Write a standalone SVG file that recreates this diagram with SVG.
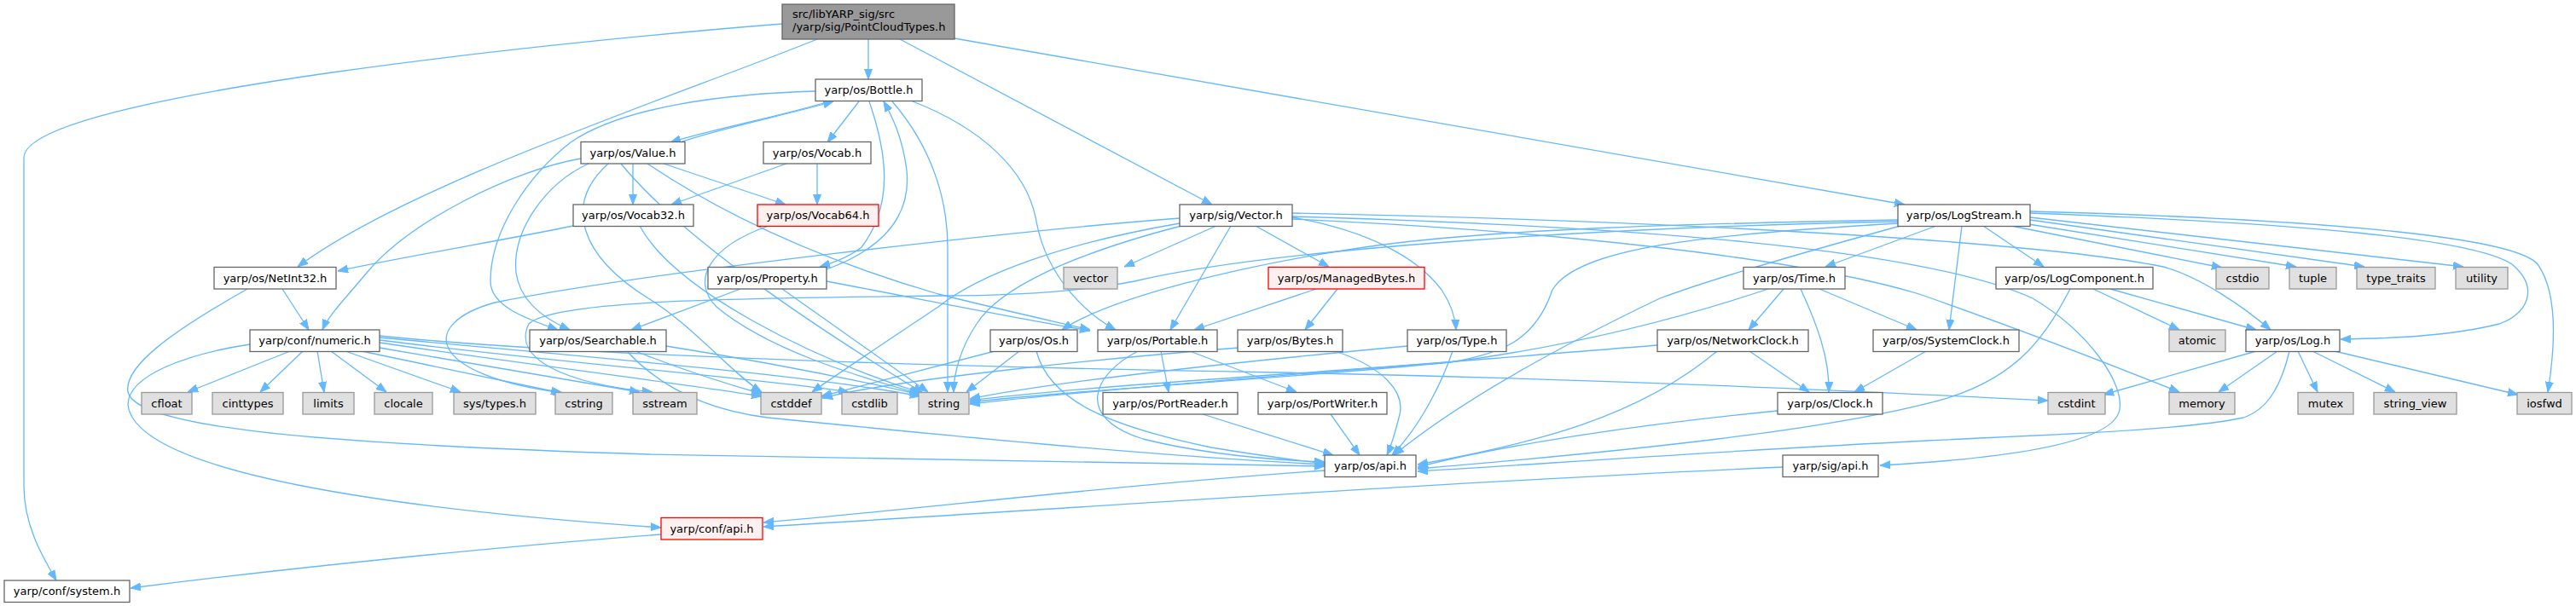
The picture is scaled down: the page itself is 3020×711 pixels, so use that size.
<svg xmlns="http://www.w3.org/2000/svg" width="3020" height="711" viewBox="0 0 3020 711">
<style>
.e{fill:none;stroke:#63b8ff;stroke-width:1.3;marker-end:url(#a)}
rect{stroke-width:1.3}
.w rect{fill:#ffffff;stroke:#666666}
.g rect{fill:#e0e0e0;stroke:#999999}
.r rect{fill:#fff0f0;stroke:#ff0000}
.t rect{fill:#999999;stroke:#666666}
text{font-family:"DejaVu Sans","Liberation Sans",sans-serif;font-size:13px;fill:#000000;text-anchor:middle}
.t text{text-anchor:start}
</style>
<defs>
<marker id="a" markerWidth="12" markerHeight="10" refX="12" refY="5" orient="auto" markerUnits="userSpaceOnUse"><path d="M0,0.5 L12,5 L0,9.5 z" fill="#63b8ff" stroke="#63b8ff" stroke-width="1"/></marker>
</defs>
<rect width="3020" height="711" fill="#ffffff"/>
<g id="edges">
<path class="e" d="M1018,46 L1018,93"/>
<path class="e" d="M958,46 C800,110 480,215 349,313"/>
<path class="e" d="M1055,46 L1421,240"/>
<path class="e" d="M1119,45 L2233,240"/>
<path class="e" d="M917,28 C700,45 28,110 28,185 L28,570 C28,615 48,650 66,681"/>
<path class="e" d="M972,119 C920,135 830,153 786,167"/>
<path class="e" d="M797,167 C845,150 930,133 977,119"/>
<path class="e" d="M1007,119 L970,167"/>
<path class="e" d="M1019,119 C1040,180 1048,240 1010,290 C995,302 978,308 961,313"/>
<path class="e" d="M969,316 C1040,290 1068,250 1063,200 C1058,160 1045,135 1036,119"/>
<path class="e" d="M1046,119 C1090,170 1111,230 1111,290 L1111,460"/>
<path class="e" d="M1070,119 C1150,150 1205,200 1215,260 C1228,330 1280,372 1308,387"/>
<path class="e" d="M956,107 C850,110 730,125 669,167 C620,205 575,270 575,330 C575,360 620,375 654,387"/>
<path class="e" d="M681,186 C600,200 480,260 430,320 C405,350 385,370 378,387"/>
<path class="e" d="M690,192 C640,215 600,270 605,320 C610,355 640,375 668,387"/>
<path class="e" d="M742,192 L742,240"/>
<path class="e" d="M778,192 L921,240"/>
<path class="e" d="M759,192 C860,260 980,310 1100,345 C1180,365 1240,378 1278,387"/>
<path class="e" d="M713,192 C660,240 680,300 760,350 C810,380 860,440 893,460"/>
<path class="e" d="M728,192 C800,280 950,380 1082,461"/>
<path class="e" d="M922,192 L787,240"/>
<path class="e" d="M958,192 L958,240"/>
<path class="e" d="M672,265 C600,280 480,300 396,318"/>
<path class="e" d="M750,265 C790,340 950,420 1080,461"/>
<path class="e" d="M901,265 C830,290 810,330 840,360 C900,410 1000,440 1078,462"/>
<path class="e" d="M331,339 L362,387"/>
<path class="e" d="M290,339 C200,390 145,430 150,460 C160,500 350,520 760,533 L1553,547"/>
<path class="e" d="M868,339 L740,387"/>
<path class="e" d="M969,330 C1100,355 1200,375 1278,388"/>
<path class="e" d="M917,339 L1088,460"/>
<path class="e" d="M745,412 C790,430 850,450 893,462"/>
<path class="e" d="M781,406 C900,425 1000,445 1079,463"/>
<path class="e" d="M735,412 C770,450 820,480 900,490 C1100,510 1350,535 1553,545"/>
<path class="e" d="M293,404 C220,415 150,440 150,475 C160,560 500,600 775,619"/>
<path class="e" d="M340,412 L220,460"/>
<path class="e" d="M355,412 L305,460"/>
<path class="e" d="M372,412 L380,460"/>
<path class="e" d="M388,412 L453,460"/>
<path class="e" d="M405,412 L540,460"/>
<path class="e" d="M424,412 L658,461"/>
<path class="e" d="M445,408 L750,460"/>
<path class="e" d="M445,402 C600,425 800,450 893,465"/>
<path class="e" d="M445,399 C650,425 900,445 995,460"/>
<path class="e" d="M445,396 C700,420 950,440 1079,465"/>
<path class="e" d="M445,394 C700,420 1200,432 1500,437 C1900,445 2200,460 2401,470"/>
<path class="e" d="M1426,265 L1318,313"/>
<path class="e" d="M1443,265 L1372,387"/>
<path class="e" d="M1472,265 L1558,313"/>
<path class="e" d="M1383,256 C1200,270 750,320 580,355 C490,380 500,440 660,461"/>
<path class="e" d="M1383,262 C1250,285 1150,320 1100,360 C1040,400 980,440 952,460"/>
<path class="e" d="M1385,265 C1250,300 1170,340 1145,380 C1125,410 1118,440 1118,460"/>
<path class="e" d="M1515,255 C1600,270 1660,300 1690,340 C1700,355 1706,370 1707,387"/>
<path class="e" d="M1515,250 C2000,260 2400,285 2536,313 C2580,325 2630,360 2662,387"/>
<path class="e" d="M1515,257 C1800,270 2100,300 2250,345 C2350,380 2480,430 2555,460"/>
<path class="e" d="M1515,254 C1900,265 2250,290 2383,350 C2450,390 2490,450 2485,480 C2480,520 2350,538 2204,546"/>
<path class="e" d="M1543,339 L1400,387"/>
<path class="e" d="M1568,339 L1530,387"/>
<path class="e" d="M1452,408 C1300,420 1050,445 964,467"/>
<path class="e" d="M1565,412 C1620,430 1650,460 1640,490 C1635,510 1630,525 1626,534"/>
<path class="e" d="M1361,412 L1370,460"/>
<path class="e" d="M1395,412 L1520,460"/>
<path class="e" d="M1334,412 C1280,440 1260,490 1340,515 C1420,535 1500,540 1553,542"/>
<path class="e" d="M1410,486 L1563,534"/>
<path class="e" d="M1560,486 L1594,534"/>
<path class="e" d="M1166,412 L963,465"/>
<path class="e" d="M1195,412 L1133,460"/>
<path class="e" d="M1215,412 C1230,470 1300,500 1420,525 C1480,535 1520,540 1553,544"/>
<path class="e" d="M1650,406 C1500,420 1250,445 1137,468"/>
<path class="e" d="M1703,412 C1690,450 1665,500 1632,534"/>
<path class="e" d="M2225,258 C2000,262 1750,268 1600,290 C1450,312 1300,350 1245,387"/>
<path class="e" d="M2225,260 C1900,266 1500,290 1330,330 C1250,345 1150,347 1100,347 C900,350 650,350 620,380 C600,420 660,450 765,460"/>
<path class="e" d="M2225,262 C2000,275 1850,290 1820,340 C1800,400 1760,415 1700,425 C1500,440 1250,455 1137,470"/>
<path class="e" d="M2228,265 C2100,300 2000,330 1946,350 C1800,420 1700,480 1634,534"/>
<path class="e" d="M2270,265 L2140,313"/>
<path class="e" d="M2300,265 L2285,387"/>
<path class="e" d="M2325,265 L2396,313"/>
<path class="e" d="M2358,265 L2605,314"/>
<path class="e" d="M2378,263 L2692,313"/>
<path class="e" d="M2380,258 L2772,313"/>
<path class="e" d="M2380,255 L2888,313"/>
<path class="e" d="M2380,250 C2700,262 2900,280 2945,310 C2980,340 2960,370 2930,380 C2870,395 2800,397 2744,398"/>
<path class="e" d="M2380,248 C2750,258 2950,280 2975,310 C3000,345 2995,410 2987,460"/>
<path class="e" d="M2091,339 L2050,387"/>
<path class="e" d="M2111,339 C2130,380 2145,420 2144,460"/>
<path class="e" d="M2133,339 L2247,387"/>
<path class="e" d="M2073,339 C1980,370 1850,405 1700,425 C1500,445 1250,458 1137,472"/>
<path class="e" d="M1943,405 C1700,425 1300,455 1137,474"/>
<path class="e" d="M2013,412 C1920,490 1800,520 1662,545"/>
<path class="e" d="M2051,412 L2121,460"/>
<path class="e" d="M2258,412 L2174,460"/>
<path class="e" d="M2084,482 C1900,500 1750,525 1662,548"/>
<path class="e" d="M2427,339 C2400,390 2370,440 2283,467 C2150,505 1900,530 1662,550"/>
<path class="e" d="M2454,339 L2555,387"/>
<path class="e" d="M2474,339 L2645,387"/>
<path class="e" d="M2645,412 L2466,463"/>
<path class="e" d="M2670,412 L2601,460"/>
<path class="e" d="M2684,412 C2675,450 2660,480 2630,490 C2560,505 2400,510 2260,517 C2000,530 1800,545 1662,553"/>
<path class="e" d="M2694,412 L2717,460"/>
<path class="e" d="M2711,412 L2808,460"/>
<path class="e" d="M2737,412 L2952,463"/>
<path class="e" d="M1553,552 C1300,570 1100,595 895,613"/>
<path class="e" d="M2090,548 C1700,565 1200,600 895,618"/>
<path class="e" d="M775,627 C600,640 350,665 153,690"/>
</g>
<g id="n_top" class="t"><rect x="917" y="5" width="202" height="41"/><text x="929" y="20.5">src/libYARP_sig/src</text><text x="929" y="35.5">/yarp/sig/PointCloudTypes.h</text></g>
<g id="n_bottle" class="w"><rect x="956" y="93" width="125" height="25.5"/><text x="1018.5" y="110.3">yarp/os/Bottle.h</text></g>
<g id="n_value" class="w"><rect x="681" y="166.5" width="122" height="25.5"/><text x="742" y="183.8">yarp/os/Value.h</text></g>
<g id="n_vocab" class="w"><rect x="895" y="166.5" width="126" height="25.5"/><text x="958" y="183.8">yarp/os/Vocab.h</text></g>
<g id="n_vocab32" class="w"><rect x="672" y="240" width="141" height="25.5"/><text x="742.5" y="257.3">yarp/os/Vocab32.h</text></g>
<g id="n_vocab64" class="r"><rect x="888" y="240" width="142" height="25.5"/><text x="959" y="257.3">yarp/os/Vocab64.h</text></g>
<g id="n_sigvector" class="w"><rect x="1383" y="240" width="132" height="25.5"/><text x="1449" y="257.3">yarp/sig/Vector.h</text></g>
<g id="n_logstream" class="w"><rect x="2225" y="240" width="155" height="25.5"/><text x="2302.5" y="257.3">yarp/os/LogStream.h</text></g>
<g id="n_netint32" class="w"><rect x="251" y="313.5" width="143" height="25.5"/><text x="322.5" y="330.8">yarp/os/NetInt32.h</text></g>
<g id="n_property" class="w"><rect x="830" y="313.5" width="139" height="25.5"/><text x="899.5" y="330.8">yarp/os/Property.h</text></g>
<g id="n_vector" class="g"><rect x="1247" y="313.5" width="63" height="25.5"/><text x="1278.5" y="330.8">vector</text></g>
<g id="n_managedbytes" class="r"><rect x="1487" y="313.5" width="183" height="25.5"/><text x="1578.5" y="330.8">yarp/os/ManagedBytes.h</text></g>
<g id="n_time" class="w"><rect x="2044" y="313.5" width="119" height="25.5"/><text x="2103.5" y="330.8">yarp/os/Time.h</text></g>
<g id="n_logcomponent" class="w"><rect x="2340" y="313.5" width="184" height="25.5"/><text x="2432" y="330.8">yarp/os/LogComponent.h</text></g>
<g id="n_cstdio" class="g"><rect x="2598" y="313.5" width="62" height="25.5"/><text x="2629" y="330.8">cstdio</text></g>
<g id="n_tuple" class="g"><rect x="2684" y="313.5" width="55" height="25.5"/><text x="2711.5" y="330.8">tuple</text></g>
<g id="n_type_traits" class="g"><rect x="2763" y="313.5" width="92" height="25.5"/><text x="2809" y="330.8">type_traits</text></g>
<g id="n_utility" class="g"><rect x="2879" y="313.5" width="61" height="25.5"/><text x="2909.5" y="330.8">utility</text></g>
<g id="n_numeric" class="w"><rect x="293" y="387" width="152" height="25.5"/><text x="369" y="404.3">yarp/conf/numeric.h</text></g>
<g id="n_searchable" class="w"><rect x="621" y="387" width="160" height="25.5"/><text x="701" y="404.3">yarp/os/Searchable.h</text></g>
<g id="n_os" class="w"><rect x="1161" y="387" width="102" height="25.5"/><text x="1212" y="404.3">yarp/os/Os.h</text></g>
<g id="n_portable" class="w"><rect x="1287" y="387" width="140" height="25.5"/><text x="1357" y="404.3">yarp/os/Portable.h</text></g>
<g id="n_bytes" class="w"><rect x="1451" y="387" width="123" height="25.5"/><text x="1512.5" y="404.3">yarp/os/Bytes.h</text></g>
<g id="n_type" class="w"><rect x="1650" y="387" width="116" height="25.5"/><text x="1708" y="404.3">yarp/os/Type.h</text></g>
<g id="n_networkclock" class="w"><rect x="1943" y="387" width="177" height="25.5"/><text x="2031.5" y="404.3">yarp/os/NetworkClock.h</text></g>
<g id="n_systemclock" class="w"><rect x="2196" y="387" width="171" height="25.5"/><text x="2281.5" y="404.3">yarp/os/SystemClock.h</text></g>
<g id="n_atomic" class="g"><rect x="2543" y="387" width="66" height="25.5"/><text x="2576" y="404.3">atomic</text></g>
<g id="n_log" class="w"><rect x="2633" y="387" width="110" height="25.5"/><text x="2688" y="404.3">yarp/os/Log.h</text></g>
<g id="n_cfloat" class="g"><rect x="166" y="460.5" width="59" height="25.5"/><text x="195.5" y="477.8">cfloat</text></g>
<g id="n_cinttypes" class="g"><rect x="249" y="460.5" width="83" height="25.5"/><text x="290.5" y="477.8">cinttypes</text></g>
<g id="n_limits" class="g"><rect x="355" y="460.5" width="60" height="25.5"/><text x="385" y="477.8">limits</text></g>
<g id="n_clocale" class="g"><rect x="439" y="460.5" width="68" height="25.5"/><text x="473" y="477.8">clocale</text></g>
<g id="n_systypes" class="g"><rect x="532" y="460.5" width="96" height="25.5"/><text x="580" y="477.8">sys/types.h</text></g>
<g id="n_cstring" class="g"><rect x="651" y="460.5" width="67" height="25.5"/><text x="684.5" y="477.8">cstring</text></g>
<g id="n_sstream" class="g"><rect x="742" y="460.5" width="75" height="25.5"/><text x="779.5" y="477.8">sstream</text></g>
<g id="n_cstddef" class="g"><rect x="892" y="460.5" width="71" height="25.5"/><text x="927.5" y="477.8">cstddef</text></g>
<g id="n_cstdlib" class="g"><rect x="987" y="460.5" width="65" height="25.5"/><text x="1019.5" y="477.8">cstdlib</text></g>
<g id="n_string" class="g"><rect x="1077" y="460.5" width="59" height="25.5"/><text x="1106.5" y="477.8">string</text></g>
<g id="n_portreader" class="w"><rect x="1293" y="460.5" width="158" height="25.5"/><text x="1372" y="477.8">yarp/os/PortReader.h</text></g>
<g id="n_portwriter" class="w"><rect x="1475" y="460.5" width="151" height="25.5"/><text x="1550.5" y="477.8">yarp/os/PortWriter.h</text></g>
<g id="n_clock" class="w"><rect x="2084" y="460.5" width="123" height="25.5"/><text x="2145.5" y="477.8">yarp/os/Clock.h</text></g>
<g id="n_cstdint" class="g"><rect x="2401" y="460.5" width="67" height="25.5"/><text x="2434.5" y="477.8">cstdint</text></g>
<g id="n_memory" class="g"><rect x="2543" y="460.5" width="77" height="25.5"/><text x="2581.5" y="477.8">memory</text></g>
<g id="n_mutex" class="g"><rect x="2694" y="460.5" width="65" height="25.5"/><text x="2726.5" y="477.8">mutex</text></g>
<g id="n_string_view" class="g"><rect x="2783" y="460.5" width="97" height="25.5"/><text x="2831.5" y="477.8">string_view</text></g>
<g id="n_iosfwd" class="g"><rect x="2951" y="460.5" width="64" height="25.5"/><text x="2983" y="477.8">iosfwd</text></g>
<g id="n_osapi" class="w"><rect x="1553" y="534" width="107" height="25.5"/><text x="1606.5" y="551.3">yarp/os/api.h</text></g>
<g id="n_sigapi" class="w"><rect x="2090" y="534" width="112" height="25.5"/><text x="2146" y="551.3">yarp/sig/api.h</text></g>
<g id="n_confapi" class="r"><rect x="775" y="607.5" width="119" height="25.5"/><text x="834.5" y="624.8">yarp/conf/api.h</text></g>
<g id="n_system" class="w"><rect x="5" y="681" width="147" height="25.5"/><text x="78.5" y="698.3">yarp/conf/system.h</text></g>
</svg>
